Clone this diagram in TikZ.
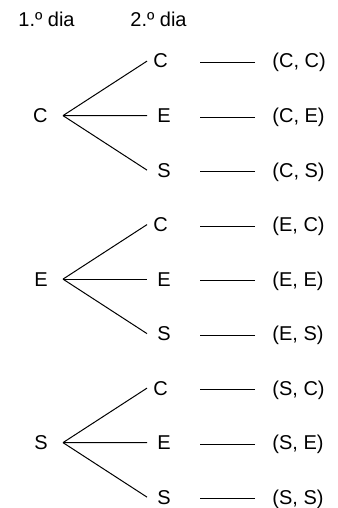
\documentclass[tikz,border=0pt]{standalone}
\usepackage{fontspec}
\setmainfont{Liberation Sans}
\begin{document}
\begin{tikzpicture}[x=0.5pt,y=-0.5pt,
  txt/.style={inner ysep=0pt, font=\fontsize{10}{12}\selectfont},
  head/.style={txt, inner xsep=0pt, anchor=base west},
  root/.style={txt, inner xsep=7.5pt, anchor=base east},
  leaf/.style={txt, anchor=base west},
  pair/.style={txt, inner xsep=8.5pt, anchor=base west},
  branch/.style={line width=0.5pt, black},
  link/.style={line width=0.5pt, black}]
\useasboundingbox (0,0) rectangle (337,508);

% column headings
\node[head] (d1) at (18,27) {1.º dia};
\node[head] (d2) at (130,27) {2.º dia};

% tree: first day -> second day -> outcome pair
\foreach \a [count=\g from 0] in {C,E,S} {
  \pgfmathsetmacro\ry{61+54.5*(3*\g+1)}
  \node[root] (r\g) at (63,\ry+7) {\a};
  \foreach \b/\lx [count=\j from 0] in {C/3pt,E/5pt,S/5pt} {
    \pgfmathsetmacro\ly{61+54.5*(3*\g+\j)}
    \node[leaf, inner xsep=\lx] (l\g\j) at (147,\ly+7) {\b};
    \draw[branch] (r\g.east) -- (l\g\j.west);
    \node[pair] (p\g\j) at (255,\ly+7) {(\a, \b)};
    \draw[link] (p\g\j.west) -- ++(-55,0);
  }
}
\end{tikzpicture}
\end{document}
